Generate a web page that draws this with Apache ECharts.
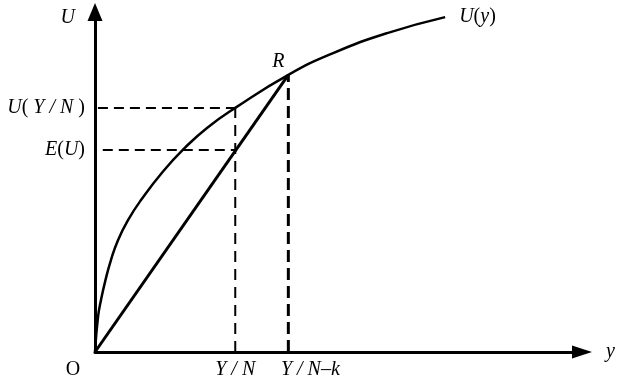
<!DOCTYPE html>
<html>
<head>
<meta charset="utf-8">
<script src="https://cdn.jsdelivr.net/npm/echarts@6/dist/echarts.min.js"></script>
<style>html,body{margin:0;padding:0;background:#fff}#c{width:624px;height:382px}</style>
</head>
<body>
<div id="c"></div>
<script>
// ---- data ----
const utilityCurve = [[0,0],[0.62,10.3],[1.23,15.3],[2.16,21.2],[3.29,27.1],[4.72,32.9],[6.78,38.8],[9.45,44.7],[13.96,53.1],[18.48,60.1],[23,65.9],[28.8,71.8],[39.7,81.5],[48.9,87.9],[60,93.8],[71.9,98.5]];
const pointR = [39.7, 81.5];
const yOverN = 28.8;
const uOfYN = 71.8;
const expectedU = 59.4;
const xTickValues = [0, 28.8, 39.7];
const xTickLabels = ['O', 'Y / N', 'Y / N–k'];
const yTickValues = [59.4, 71.8];
const yTickLabels = ['E(U)', 'U(Y/N)'];

const FF = "'Liberation Serif','DejaVu Serif',serif";
const rich = {
  i: {fontFamily: FF, fontStyle: 'italic', fontSize: 20, color: '#000'},
  r: {fontFamily: FF, fontStyle: 'normal', fontSize: 20, color: '#000'},
  o: {fontFamily: FF, fontStyle: 'normal', fontSize: 20, color: '#000', padding: [0, 44, 0, 0]},
  k: {fontFamily: FF, fontStyle: 'italic', fontSize: 20, color: '#000', padding: [0, 0, 0, 44]}
};

function xLabel(v) {
  const idx = xTickValues.indexOf(v);
  if (idx === 0) return '{o|' + xTickLabels[0] + '}';
  if (idx === 1) return '{i|' + xTickLabels[1] + '}';
  if (idx === 2) return '{k|' + xTickLabels[2] + '}';
  return '';
}
function yLabel(v) {
  const idx = yTickValues.indexOf(v);
  if (idx === 0) return '{i|E}{r|(}{i|U}{r|)}';
  if (idx === 1) return '{i|U}{r|( }{i|Y / N}{r| )}';
  return '';
}

const chart = echarts.init(document.getElementById('c'));
const dashed = (w, dash) => ({color: '#000', width: w, type: dash});
chart.setOption({
  backgroundColor: '#fff',
  animation: false,
  grid: {left: 95, right: 42, top: 12, bottom: 30, containLabel: false},
  xAxis: {
    type: 'value', min: 0, max: 100,
    name: 'y', nameLocation: 'end', nameGap: 24,
    nameTextStyle: {fontFamily: FF, fontStyle: 'italic', fontSize: 20, color: '#000', verticalAlign: 'middle'},
    axisLine: {onZero: false, lineStyle: {color: '#000', width: 3}, symbol: ['none', 'triangle'], symbolSize: [13, 20]},
    axisTick: {show: false},
    splitLine: {show: false},
    axisLabel: {customValues: xTickValues, formatter: xLabel, rich: rich, margin: 8, color: '#000'}
  },
  yAxis: {
    type: 'value', min: 0, max: 100,
    name: 'U', nameLocation: 'end', nameGap: -6,
    nameTextStyle: {fontFamily: FF, fontStyle: 'italic', fontSize: 20, color: '#000', align: 'right', verticalAlign: 'middle', padding: [0, 20, 0, 0]},
    axisLine: {onZero: false, lineStyle: {color: '#000', width: 3}, symbol: ['none', 'triangle'], symbolSize: [15, 18]},
    axisTick: {show: false},
    splitLine: {show: false},
    axisLabel: {customValues: yTickValues, formatter: yLabel, rich: rich, margin: 10, color: '#000'}
  },
  series: [
    {
      type: 'line', data: utilityCurve, smooth: 0.5, symbol: 'none',
      lineStyle: {color: '#000', width: 2.5},
      endLabel: {show: true, formatter: '{i|U}{r|(}{i|y}{r|)}', rich: rich, distance: 14}
    },
    {
      type: 'line', data: [[0, 0], pointR], symbol: 'circle', symbolSize: 1,
      itemStyle: {color: '#000'},
      lineStyle: {color: '#000', width: 3},
      label: {show: true, formatter: p => p.dataIndex === 1 ? '{i|R}' : '', rich: rich, position: 'top', distance: 3, offset: [-10, 0]}
    },
    {type: 'line', data: [[0.6, uOfYN], [yOverN, uOfYN]], symbol: 'none', lineStyle: dashed(2, [10, 6])},
    {type: 'line', data: [[1.6, expectedU], [yOverN, expectedU]], symbol: 'none', lineStyle: dashed(2, [10, 6])},
    {type: 'line', data: [[yOverN, 0], [yOverN, uOfYN]], symbol: 'none', lineStyle: dashed(2, [11, 7])},
    {type: 'line', data: [[pointR[0], 0], pointR], symbol: 'none', lineStyle: dashed(3, [12, 6])}
  ]
});
</script>
</body>
</html>
